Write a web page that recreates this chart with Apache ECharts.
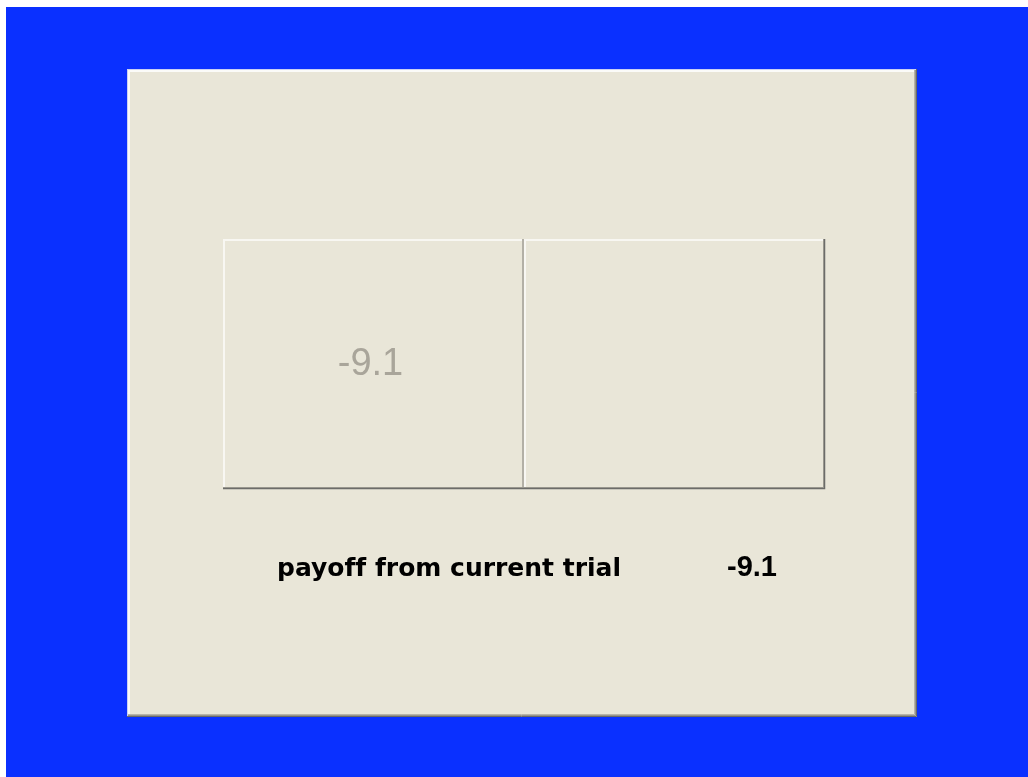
<!DOCTYPE html>
<html>
<head>
<meta charset="utf-8">
<script src="https://cdn.jsdelivr.net/npm/echarts@6/dist/echarts.min.js"></script>
<style>
  html, body { margin: 0; padding: 0; background: #ffffff; }
  #screen { position: absolute; left: 6px; top: 7px; width: 1022px; height: 770px; }
</style>
</head>
<body>
<div id="screen"></div>
<script>
// Trial data
const cells = ['left', 'right'];
const rows = ['choice'];
const cellValues = [-9.1, null];   // value shown in each box (right box is empty)
const payoffLabel = 'payoff from current trial';
const payoffValue = -9.1;

const chart = echarts.init(document.getElementById('screen'));

// Panel colours
const beige = '#e9e6d8';
const light = '#f8f7f2';
const dark = '#6c6c69';
const mid = '#a9a69b';

// Bevelled box for each cell
function renderCell(params, api) {
    const idx = params.dataIndex;
    const p = api.coord([api.value(0), api.value(1)]);
    const s = api.size([1, 1]);
    const x = Math.round(p[0] - s[0] / 2);
    const y = Math.round(p[1] - s[1] / 2);
    const w = Math.round(s[0]);
    const h = Math.round(s[1]);
    const isLast = idx === cells.length - 1;
    const children = [
        { type: 'rect', shape: { x: x, y: y, width: w, height: h }, style: { fill: beige } },
        { type: 'polyline', shape: { points: [[x + 1, y + h], [x + 1, y + 1], [x + w, y + 1]] },
          style: { stroke: light, lineWidth: 2, fill: null } }
    ];
    if (isLast) {
        children.push({ type: 'polyline', shape: { points: [[x + w - 1.5, y], [x + w - 1.5, y + h - 1.5], [x, y + h - 1.5]] },
            style: { stroke: mid, lineWidth: 1, fill: null } });
        children.push({ type: 'polyline', shape: { points: [[x + w - 0.5, y], [x + w - 0.5, y + h - 0.5], [x, y + h - 0.5]] },
            style: { stroke: dark, lineWidth: 1.5, fill: null } });
    } else {
        children.push({ type: 'line', shape: { x1: x + w - 1, y1: y, x2: x + w - 1, y2: y + h } ,
            style: { stroke: '#b3b0a6', lineWidth: 2 } });
        children.push({ type: 'polyline', shape: { points: [[x, y + h - 1.5], [x + w, y + h - 1.5]] },
            style: { stroke: mid, lineWidth: 1, fill: null } });
        children.push({ type: 'polyline', shape: { points: [[x, y + h - 0.5], [x + w, y + h - 0.5]] },
            style: { stroke: dark, lineWidth: 1.5, fill: null } });
    }
    const v = api.value(2);
    if (v !== null && !isNaN(v)) {
        children.push({
            type: 'text',
            style: {
                x: x + w / 2 - 3, y: y + h / 2 + 1,
                text: String(v),
                fill: '#a9a59a',
                font: 'normal 38px "Liberation Sans", Arial, sans-serif',
                align: 'center', verticalAlign: 'middle'
            }
        });
    }
    return { type: 'group', children: children };
}

const option = {
    backgroundColor: '#0a30ff',
    animation: false,
    graphic: [
        // main panel
        { type: 'rect', z: -10, shape: { x: 121, y: 62, width: 790, height: 648 }, style: { fill: beige } },
        { type: 'polyline', z: -9, shape: { points: [[121.5, 710], [121.5, 62.5], [911, 62.5]] }, style: { stroke: '#c9d0f4', lineWidth: 1, fill: null } },
        { type: 'polyline', z: -9, shape: { points: [[123, 710], [123, 64], [911, 64]] }, style: { stroke: '#fbfbf8', lineWidth: 2, fill: null } },
        { type: 'polyline', z: -9, shape: { points: [[908.5, 63], [908.5, 707.5], [122, 707.5]] }, style: { stroke: '#b7b4a8', lineWidth: 1, fill: null } },
        { type: 'polyline', z: -9, shape: { points: [[909.5, 63], [909.5, 708.5], [122, 708.5]] }, style: { stroke: '#97958c', lineWidth: 1, fill: null } },
        { type: 'polyline', z: -9, shape: { points: [[910.5, 62], [910.5, 709.5], [121, 709.5]] }, style: { stroke: '#6a6a67', lineWidth: 1, fill: null } },
        // payoff row (zero-width non-joiner stops the "ff" ligature)
        { type: 'text', left: 271, top: 550, style: {
            text: payoffLabel.replace(/ff/g, 'f\u200cf'), fill: '#000000',
            font: 'bold 25px "DejaVu Sans", sans-serif'
        } },
        { type: 'text', left: 721, top: 546, style: {
            text: String(payoffValue), fill: '#000000',
            font: 'bold 29px "Liberation Sans", Arial, sans-serif'
        } }
    ],
    grid: { left: 217, top: 232, width: 601, height: 250 },
    xAxis: { type: 'category', data: cells, show: false },
    yAxis: { type: 'category', data: rows, show: false },
    series: [{
        type: 'custom',
        renderItem: renderCell,
        data: cells.map((c, i) => [i, 0, cellValues[i] === null ? NaN : cellValues[i]])
    }]
};

chart.setOption(option);
</script>
</body>
</html>
